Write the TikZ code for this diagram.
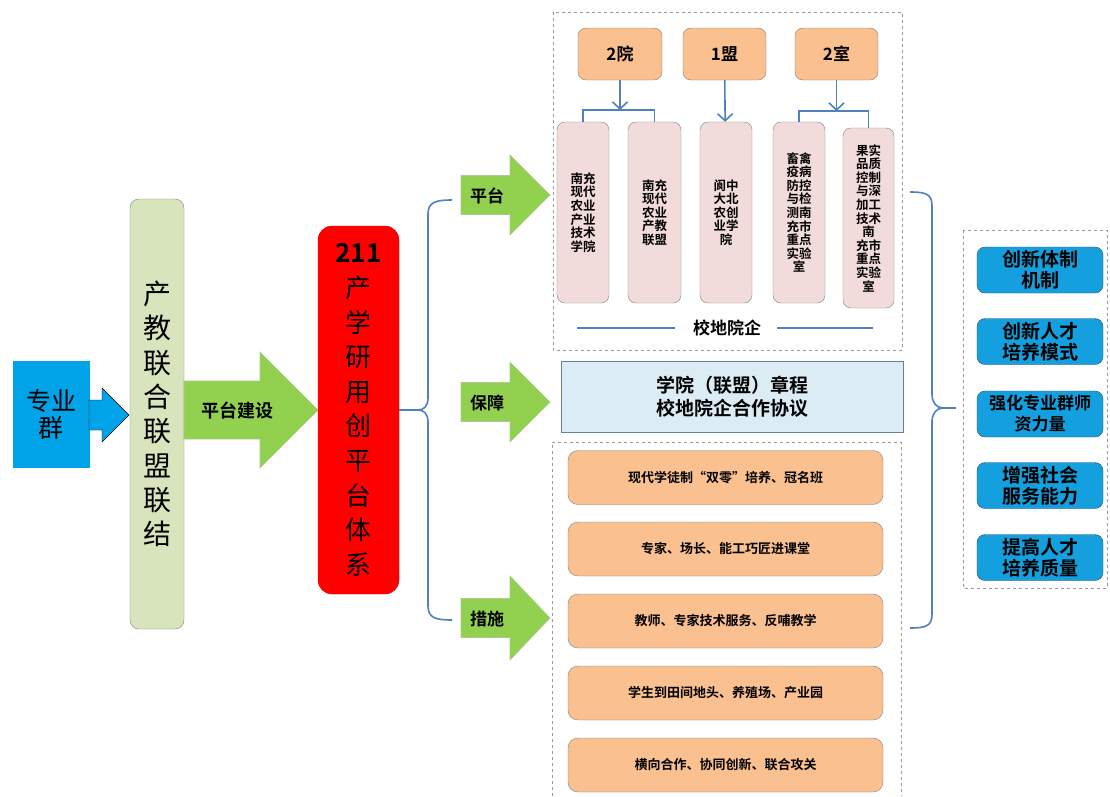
\documentclass[tikz,border=0pt]{standalone}
\usepackage{fontspec}
\setmainfont{Noto Sans CJK SC}[BoldFont={Noto Sans CJK SC Bold}]
\usepackage{tikz}
\usetikzlibrary{arrows.meta}

\definecolor{zyqblue}{RGB}{0,162,232}
\definecolor{ljgreen}{RGB}{216,228,188}
\definecolor{arrgreen}{RGB}{146,208,80}
\definecolor{braceblue}{RGB}{79,129,189}
\definecolor{boxgray}{RGB}{128,128,128}
\definecolor{orangefill}{RGB}{250,192,144}
\definecolor{pinkfill}{RGB}{242,220,219}
\definecolor{bzfill}{RGB}{219,236,244}
\definecolor{goalblue}{RGB}{20,160,222}

% fat block arrow: style, x start, x head, x tip, y centre, half shaft, half head
\newcommand{\fatarrow}[7]{\filldraw[#1] (#2,#5-#6) -- (#3,#5-#6) -- (#3,#5-#7) -- (#4,#5) -- (#3,#5+#7) -- (#3,#5+#6) -- (#2,#5+#6) -- cycle;}

\tikzset{
	fs/.style n args={2}{font=\fontsize{#1}{#2}\selectfont},
	fsb/.style n args={2}{font=\bfseries\fontsize{#1}{#2}\selectfont},
	greenarr/.style={fill=arrgreen, draw=arrgreen!80!black!60, line width=0.6pt},
	dashbox/.style={draw=boxgray!80, dashed, line width=0.7pt},
	brace/.style={draw=braceblue, line width=1.6pt},
	conn/.style={draw=braceblue, line width=1.3pt},
	arr/.style={draw=braceblue, line width=1.6pt, -{Straight Barb[length=7pt,width=15pt]}},
	obox/.style={draw=boxgray, fill=orangefill, rounded corners=8pt, align=center, inner sep=0pt},
	pbox/.style={draw=boxgray, fill=pinkfill, rounded corners=8pt, align=center, inner sep=0pt, minimum width=52pt, fsb={12.5}{13.6}},
	csbox/.style={draw=boxgray, fill=orangefill, rounded corners=10pt, align=center, inner sep=0pt, minimum width=315pt, minimum height=54pt, fsb={13}{15}},
	goal/.style={draw=braceblue!60!black, fill=goalblue, rounded corners=8pt, align=center, inner sep=0pt, minimum width=126pt, minimum height=46pt, fsb={19}{21}}
}

\begin{document}
\begin{tikzpicture}[x=1pt, y=-1pt]
	\useasboundingbox[fill=white] (0,0) rectangle (1110,796);

	% left part
	\node[fill=zyqblue, minimum width=77pt, minimum height=107pt, align=center, inner sep=0pt, fs={25}{27}] (zyq) at (51.5,414.5) {专业\\群};
	\fatarrow{fill=zyqblue}{89}{102}{129}{415}{15}{27}
	\node[draw=boxgray, fill=ljgreen, rounded corners=9pt, minimum width=54pt, minimum height=430pt, align=center, inner sep=0pt, fs={28}{34.3}] (lj) at (157,414) {产\\教\\联\\合\\联\\盟\\联\\结};
	\fatarrow{greenarr}{184}{260}{318}{410}{29}{58}
	\node[fsb={18}{20}] (ptjs) at (237,411) {平台建设};
	\node[draw=red!85!black, fill=red, rounded corners=14pt, minimum width=81pt, minimum height=368pt, align=center, inner sep=0pt, fs={26}{34.6}] (tx) at (358.5,410) {\textbf{211}\\产\\学\\研\\用\\创\\平\\台\\体\\系};

	% left brace
	\coordinate (tipL) at (418,410);
	\draw[brace] (tx) -- (tipL);
	\draw[brace] (452,200) .. controls (436,200) and (428,202) .. (428,214) -- (428,398) .. controls (428,406) and (424,410) .. (tipL) .. controls (424,410) and (428,414) .. (428,422) -- (428,606) .. controls (428,618) and (436,620) .. (452,620);

	% three green arrows
	\fatarrow{greenarr}{461}{510}{550}{195}{19.5}{40}
	\node[fsb={17}{19}] (pt) at (487,196) {平台};
	\fatarrow{greenarr}{461}{510}{550}{402}{19.5}{40}
	\node[fsb={17}{19}] (bzl) at (487,403) {保障};
	\fatarrow{greenarr}{461}{510}{550}{618}{19.5}{42}
	\node[fsb={17}{19}] (cs) at (487,619) {措施};

	% platform block
	\draw[dashbox] (553,12) rectangle (902,350);
	\node[obox, minimum width=84pt, minimum height=52pt, fsb={17}{19}] (y2) at (620,54) {2院};
	\node[obox, minimum width=83pt, minimum height=52pt, fsb={17}{19}] (m1) at (724.5,54) {1盟};
	\node[obox, minimum width=83pt, minimum height=52pt, fsb={17}{19}] (s2) at (836.5,54) {2室};
	\node[pbox, minimum height=181pt] (p1) at (583,212.5) {南充\\现代\\农业\\产业\\技术\\学院};
	\node[pbox, minimum height=181pt, minimum width=53pt] (p2) at (654.5,212.5) {南充\\现代\\农业\\产教\\联盟};
	\node[pbox, minimum height=181pt] (p3) at (726,212.5) {阆中\\大北\\农创\\业学\\院};
	\node[pbox, minimum height=181pt] (p4) at (799,212.5) {畜禽\\疫病\\防控\\与检\\测南\\充市\\重点\\实验\\室};
	\node[pbox, minimum height=180pt, minimum width=51pt] (p5) at (868.5,218) {果实\\品质\\控制\\与深\\加工\\技术\\南\\充市\\重点\\实验\\室};
	\coordinate (b1) at (620,110);
	\draw[arr] (y2) -- (b1);
	\draw[conn] (p1.north) |- (b1) -| (p2.north);
	\draw[arr] (m1) -- (p3);
	\coordinate (b2) at (836.5,111);
	\draw[arr] (s2) -- (b2);
	\draw[conn] (p4.north) |- (b2) -| (p5.north);
	\node[fsb={17}{19}] (xdyq) at (727,328) {校地院企};
	\coordinate (xa) at (577,328);
	\coordinate (xb) at (675,328);
	\coordinate (xc) at (777,328);
	\coordinate (xd) at (873,328);
	\draw[conn] (xa) -- (xb);
	\draw[conn] (xc) -- (xd);

	% guarantee block
	\node[draw=braceblue!50!boxgray, fill=bzfill, minimum width=342pt, minimum height=71pt, align=center, inner sep=0pt, fsb={19}{23}] (bz) at (732,396.5) {学院（联盟）章程\\校地院企合作协议};

	% measures block
	\draw[dashbox] (552,796) -- (552,442) -- (901,442) -- (901,796);
	\node[csbox] (cs1) at (725.5,477.5) {现代学徒制“双零”培养、冠名班};
	\node[csbox] (cs2) at (725.5,549) {专家、场长、能工巧匠进课堂};
	\node[csbox] (cs3) at (725.5,621) {教师、专家技术服务、反哺教学};
	\node[csbox] (cs4) at (725.5,693) {学生到田间地头、养殖场、产业园};
	\node[csbox] (cs5) at (725.5,765) {横向合作、协同创新、联合攻关};

	% right brace
	\coordinate (tipR) at (956,408);
	\draw[brace] (910,192) .. controls (926,192) and (932,194) .. (932,206) -- (932,394) .. controls (932,402) and (936,408) .. (943,408) .. controls (936,408) and (932,414) .. (932,422) -- (932,614) .. controls (932,626) and (926,628) .. (910,628);
	\draw[brace] (943,408) -- (tipR);

	% goals
	\draw[dashbox] (963,230) rectangle (1107,588);
	\node[goal] (g1) at (1040,270) {创新体制\\机制};
	\node[goal] (g2) at (1040,341.5) {创新人才\\培养模式};
	\node[goal, fsb={17}{21}] (g3) at (1040,414) {强化专业群师\\资力量};
	\node[goal] (g4) at (1040,485.5) {增强社会\\服务能力};
	\node[goal] (g5) at (1040,557.5) {提高人才\\培养质量};
\end{tikzpicture}
\end{document}
